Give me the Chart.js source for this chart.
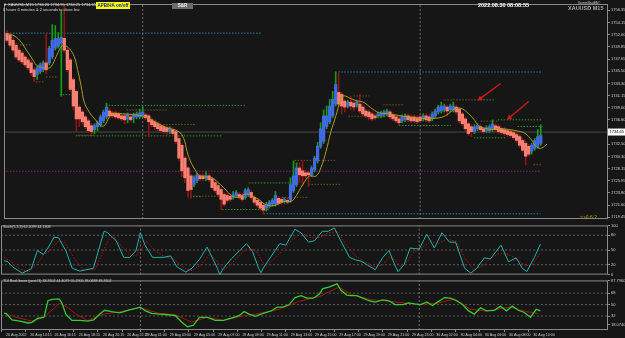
<!DOCTYPE html>
<html><head><meta charset="utf-8"><title>XAUUSD M15</title>
<script src="https://cdn.jsdelivr.net/npm/chart.js@4.4.1/dist/chart.umd.min.js"></script>
<style>
html,body{margin:0;padding:0;background:#161616;}
body{width:625px;height:338px;position:relative;overflow:hidden;font-family:'Liberation Sans',Arial,sans-serif;}
canvas{position:absolute;left:0;}
.t{position:absolute;white-space:nowrap;line-height:1;z-index:5;}
</style></head><body>
<canvas id="cMain" width="625" height="223" style="top:0"></canvas>
<canvas id="cStoch" width="625" height="56" style="top:222px"></canvas>
<canvas id="cTdi" width="625" height="61" style="top:277px"></canvas>

<div class="t" style="left:3px;top:3px;font-size:4px;color:#dcdcdc">▼ XAUUSD,M15 1734.26 1734.95 1734.25 1734.65</div>
<div class="t" style="left:3px;top:8px;font-size:4px;color:#dcdcdc">0 hours 6 minutes &amp; 2 seconds to close bar</div>
<div class="t" style="left:96px;top:2px;width:34px;height:7px;background:#ffff00;color:#1020c0;font-size:4.5px;font-weight:bold;line-height:7px;text-align:center">APB/HA on/off</div>
<div class="t" style="left:172px;top:2.5px;width:21px;height:6.5px;background:#6c6c6c;color:#f0f0f0;font-size:4.5px;font-weight:bold;line-height:6.5px;text-align:center">S&amp;R</div>
<div class="t" style="left:478px;top:3px;font-size:5.5px;font-weight:bold;color:#ffffff">2022.08.30 08:08:55</div>
<div class="t" style="left:578px;top:2px;font-size:3px;color:#cfcfcf">ScreenShotEA ©</div>
<div class="t" style="left:568px;top:5.5px;font-size:5.5px;font-weight:bold;color:#a9a9a9">XAUUSD M15</div>
<div class="t" style="left:580px;top:215px;font-size:5px;color:#a4a020">&gt;&gt;0:6:2</div>
<div class="t" style="left:3px;top:225.5px;font-size:3.6px;color:#d0d0d0">Stoch(5,3,3) 62.2099 44.1308</div>
<div class="t" style="left:3px;top:279.5px;font-size:3.6px;color:#d0d0d0">TDI Red Green (post#3) 38.3302 44.4079 55.2905 38.0688 38.3302</div>

<script>
// ---------------- DATA ----------------
const haOpen = [1752.23,1751.88,1751.00,1750.13,1749.25,1748.73,1748.03,1747.50,1746.98,1745.75,
1744.88,1745.40,1745.75,1746.98,1746.98,1748.03,1749.60,1749.95,1750.48,1751.35,
1749.25,1747.50,1744.00,1741.90,1739.10,1738.23,1737.35,1736.65,1735.78,1735.08,
1735.60,1735.95,1736.65,1737.35,1738.40,1738.05,1738.05,1737.88,1737.53,1737.53,
1737.00,1737.35,1737.18,1737.35,1737.35,1737.53,1737.70,1737.53,1736.83,1736.48,
1736.13,1735.78,1735.60,1735.43,1734.73,1735.08,1734.73,1733.50,1732.28,1730.00,
1728.25,1726.85,1725.28,1725.98,1726.85,1726.85,1726.33,1726.85,1726.33,1725.63,
1725.10,1724.40,1723.53,1723.35,1723.18,1723.00,1723.35,1723.53,1723.35,1723.00,
1723.53,1723.88,1723.00,1722.48,1722.13,1721.60,1721.08,1721.43,1721.78,1721.78,
1722.83,1722.65,1722.30,1722.48,1722.48,1724.23,1725.28,1728.25,1727.73,1727.38,
1727.38,1727.03,1727.90,1729.48,1732.10,1732.98,1735.60,1736.48,1737.53,1739.63,
1741.73,1741.38,1740.15,1739.28,1739.98,1739.80,1739.45,1739.63,1739.10,1738.40,
1738.23,1737.88,1737.53,1737.53,1737.53,1737.70,1737.88,1738.23,1737.70,1737.35,
1737.00,1736.65,1736.83,1737.53,1737.35,1737.35,1737.18,1737.35,1737.00,1737.53,
1737.35,1737.00,1737.53,1738.23,1738.40,1738.58,1739.10,1738.58,1738.58,1739.10,
1738.75,1737.88,1737.00,1736.13,1735.60,1734.73,1735.25,1735.60,1735.25,1734.90,
1734.90,1735.08,1735.78,1735.60,1735.25,1735.08,1734.90,1734.73,1734.55,1734.20,
1733.85,1733.15,1732.63,1732.10,1731.23,1731.75,1732.10,1732.63];
const haHigh = [1752.75,1752.23,1751.35,1750.48,1749.60,1749.08,1748.38,1747.85,1747.33,1746.10,
1746.45,1746.98,1747.33,1752.23,1749.95,1753.80,1753.63,1752.40,1756.25,1757.13,
1749.60,1747.85,1744.35,1742.25,1739.45,1738.58,1737.70,1737.00,1736.13,1736.13,
1736.65,1737.70,1738.58,1739.80,1738.93,1738.40,1738.40,1738.23,1737.88,1737.88,
1738.05,1737.70,1738.05,1738.23,1738.75,1739.10,1738.05,1737.88,1737.18,1736.83,
1736.48,1736.13,1735.95,1735.78,1735.60,1735.43,1735.08,1733.85,1732.63,1730.35,
1728.60,1727.20,1726.85,1727.38,1727.20,1727.20,1727.55,1727.20,1726.68,1725.98,
1725.45,1724.75,1723.88,1723.70,1723.53,1724.05,1724.23,1723.88,1723.70,1724.58,
1724.75,1724.23,1723.35,1722.83,1722.48,1721.95,1722.13,1722.48,1722.83,1724.05,
1723.18,1723.00,1723.00,1722.83,1726.50,1729.50,1729.15,1729.15,1729.50,1727.90,
1727.73,1728.60,1730.35,1732.80,1736.30,1738.58,1739.28,1740.50,1741.90,1745.40,
1745.23,1741.73,1740.50,1740.33,1741.03,1740.15,1740.33,1741.38,1739.45,1738.75,
1738.58,1738.23,1737.88,1738.23,1738.40,1738.58,1738.75,1738.58,1738.05,1737.70,
1737.35,1737.70,1737.88,1737.88,1737.70,1737.70,1737.53,1737.70,1737.88,1737.88,
1737.70,1738.23,1738.75,1739.45,1739.98,1739.63,1739.45,1739.63,1739.98,1739.45,
1739.10,1738.23,1737.35,1736.48,1735.95,1735.95,1736.13,1735.95,1735.60,1735.78,
1735.95,1736.83,1736.13,1735.95,1735.60,1735.43,1735.25,1735.08,1734.90,1734.55,
1734.20,1733.50,1732.98,1732.45,1732.63,1733.50,1735.08,1735.95];
const haLow = [1750.65,1749.78,1748.90,1747.68,1747.15,1746.80,1746.28,1745.75,1744.70,1743.65,
1744.00,1745.05,1745.40,1745.05,1746.63,1747.68,1749.25,1749.60,1741.03,1748.90,
1745.40,1741.90,1738.58,1734.73,1735.60,1735.95,1735.25,1734.55,1734.20,1734.38,
1734.90,1735.60,1736.30,1737.00,1737.18,1737.18,1737.00,1736.83,1736.65,1736.13,
1736.30,1736.48,1736.30,1737.00,1737.00,1737.18,1736.83,1733.85,1735.60,1735.08,
1734.90,1734.55,1734.38,1734.20,1734.38,1734.03,1732.63,1729.65,1726.68,1725.63,
1723.00,1722.83,1724.93,1725.63,1725.98,1725.98,1725.98,1725.80,1724.40,1723.88,
1723.18,1720.75,1721.43,1722.13,1722.30,1722.65,1723.00,1722.65,1722.30,1722.65,
1723.18,1722.65,1721.78,1721.25,1720.73,1720.03,1720.55,1721.08,1721.43,1721.43,
1721.60,1721.78,1721.95,1721.78,1722.13,1723.88,1724.93,1725.63,1725.10,1726.50,
1724.93,1726.68,1727.55,1729.13,1731.75,1732.63,1735.25,1736.13,1737.18,1739.28,
1739.28,1737.88,1738.23,1738.93,1738.58,1738.40,1739.10,1738.05,1737.53,1737.18,
1736.83,1736.65,1736.83,1737.18,1737.18,1737.35,1737.53,1737.00,1736.65,1736.30,
1735.95,1736.30,1736.48,1736.48,1736.30,1736.30,1736.13,1736.30,1736.65,1736.48,
1736.30,1736.65,1737.18,1737.88,1738.05,1738.23,1737.53,1738.23,1738.23,1737.88,
1736.30,1735.78,1734.90,1734.03,1733.85,1734.38,1734.90,1734.73,1734.38,1734.55,
1734.55,1734.73,1734.73,1734.38,1734.20,1734.03,1733.85,1733.68,1733.33,1732.80,
1731.93,1731.05,1728.80,1730.35,1730.70,1731.40,1731.75,1732.28];
const haClose = [1751.00,1750.13,1749.25,1748.03,1747.50,1747.15,1746.63,1746.10,1745.23,1744.53,
1746.10,1746.63,1746.98,1745.75,1749.60,1751.00,1751.35,1751.35,1751.53,1749.25,
1745.75,1742.25,1739.28,1737.00,1737.00,1736.48,1735.60,1734.90,1734.73,1735.78,
1736.30,1737.35,1738.23,1739.10,1737.53,1737.53,1737.35,1737.18,1737.00,1736.83,
1737.70,1736.83,1737.70,1737.88,1738.05,1738.23,1737.18,1736.48,1735.95,1735.60,
1735.25,1734.90,1734.73,1734.73,1735.25,1734.38,1732.98,1730.00,1727.73,1726.50,
1724.23,1724.40,1726.50,1727.03,1726.33,1726.33,1726.85,1726.15,1724.75,1724.23,
1723.53,1722.65,1721.78,1722.48,1722.65,1723.53,1723.88,1723.00,1722.65,1724.23,
1724.40,1723.00,1722.13,1721.60,1721.08,1720.73,1721.78,1722.13,1722.48,1723.35,
1721.95,1722.13,1722.65,1722.13,1725.28,1726.85,1728.25,1727.03,1726.85,1726.85,
1727.03,1728.25,1730.00,1732.10,1735.25,1737.53,1737.53,1739.28,1740.50,1743.13,
1739.63,1739.28,1739.10,1739.98,1739.28,1739.10,1739.98,1738.40,1737.88,1737.53,
1737.35,1737.00,1737.18,1737.88,1738.05,1738.23,1738.40,1737.35,1737.00,1736.65,
1736.30,1737.35,1737.53,1736.83,1736.65,1736.65,1736.48,1736.65,1737.53,1736.83,
1736.65,1737.88,1738.40,1739.10,1739.28,1739.28,1738.40,1739.28,1739.28,1738.23,
1736.65,1736.13,1735.25,1734.38,1734.73,1735.60,1735.78,1735.08,1734.73,1735.43,
1735.60,1736.13,1735.08,1734.73,1734.55,1734.38,1734.20,1734.03,1733.68,1733.15,
1732.28,1731.40,1730.35,1730.70,1732.28,1733.15,1733.85,1734.03];

// moving average (bar index, price)
const maLine = [[0,1752.2],[2,1751.9],[4.2,1751.0],[6.4,1749.3],[8.6,1747.5],[9.7,1746.6],[10.8,1746.3],[13,1746.0],[14.6,1746.3],[16.3,1748.1],[17.9,1749.8],[19,1750.1],[20.7,1749.5],[22.3,1748.1],[23.4,1745.8],[24.6,1742.8],[25.6,1740.0],[27.3,1738.2],[29.5,1736.7],[31.1,1735.8],[32.3,1735.8],[33.9,1737.3],[35,1737.9],[38.3,1737.9],[44.9,1737.5],[48.2,1736.7],[52.6,1735.5],[57,1734.7],[58.6,1733.5],[59.7,1731.2],[60.8,1729.5],[62.3,1728.0],[64,1726.8],[67.9,1726.5],[70.1,1725.6],[72.3,1724.5],[74.5,1723.3],[76.7,1723.0],[78.9,1723.6],[81.1,1723.3],[83.3,1722.7],[85.5,1721.8],[87.7,1721.5],[89.9,1721.8],[92.1,1722.3],[94.3,1722.3],[95.9,1723.3],[98.1,1725.3],[100.3,1726.8],[102.5,1726.8],[104.1,1728.3],[105.8,1731.2],[107.4,1734.7],[109.1,1737.6],[110.7,1740.5],[111.8,1741.1],[114,1740.6],[116.2,1740.2],[118.4,1739.9],[120.6,1739.0],[123.3,1738.1],[126.6,1737.9],[129.9,1737.6],[133.2,1737.3],[137.6,1737.1],[142,1737.1],[144.2,1737.3],[146.4,1737.9],[148.6,1738.8],[150.9,1738.8],[153.1,1737.9],[154.7,1737.0],[156.4,1735.8],[158.6,1735.3],[160.8,1735.1],[163,1735.3],[166.3,1735.1],[169.6,1734.8],[171.8,1734.4],[174,1733.2],[175.6,1732.0],[177.3,1731.8],[179.1,1732.5]];

// support / resistance segments: [fromBar, toBar, price]
const srCyan = [[-1,84.2,1752.28],[109.9,177.6,1745.35],[85.1,176.9,1720.08]];
const srMagenta = [[-1,176.9,1727.67]];
const srGreen = [[33.7,78.9,1739.40],[22.8,71.3,1733.97],[17.5,21.1,1741.32],[71.3,87.1,1720.85],[80.2,94.4,1725.57],[60.7,64.7,1723.12],[155,162,1740.38],[162.7,177.6,1736.83],[130,147.2,1735.83],[169.3,177.6,1735.65],[154.8,165.3,1733.62]];
const srBrown = [[4.3,8.3,1750.18],[12.9,16.8,1744.47],[9.6,12.5,1743.60],[39.6,53.5,1738.58],[49.8,62.4,1736.00],[60.7,71.3,1723.23],[91.1,100,1723.00],[95.4,109.2,1729.60],[100,110.9,1725.33],[114.9,120.1,1741.08],[113.2,134,1737.47],[145,155,1740.38],[124.8,131.4,1739.50],[157.1,162.7,1736.60],[174.6,177.6,1728.83],[23.4,29,1734.08]];

// red arrows: [tailBar, tailPrice, tipBar, tipPrice]
const arrows = [[163.7,1743.3,156.9,1740.6],[173.0,1740.1,166.6,1737.2]];
const arrowAngles = [233,230];

const lastPrice = 1734.65;
const daySeparators = [45, 137];

const priceTicks = [1756.35,1754.15,1752.00,1749.85,1747.65,1745.50,1743.30,1741.15,1739.00,1736.80,1732.50,1730.30,1728.15,1725.95,1723.80,1721.60,1719.45];

// Stochastic (bar index, value)
const stochMain = [[0,28],[1,27],[3,15],[6,3],[9,12],[11,49],[13,41],[14.5,54],[16.5,76],[18,75],[20.5,47],[22.5,13],[25,7],[29.5,13],[33,88],[34,86],[37,69],[39.5,35],[41.5,35],[43.5,48],[45,85],[46.5,60],[49,35],[52.5,35],[55,38],[57,16],[60,5],[62,13],[64.5,31],[67,56],[70.4,13],[71.2,0],[72.4,13],[75,32],[77.5,47],[80,63],[82,47],[84,13],[84.8,4],[85.5,13],[91,63],[93,60],[96,92],[98,85],[100.5,66],[102.5,69],[105,88],[107,88],[109,95],[111,70],[114,35],[116,30],[118,27],[120,19],[122.5,10],[125,35],[127,49],[129,19],[130,6],[132,20],[134,54],[137,52],[139.5,82],[142,54],[144.5,85],[147,66],[149,66],[152,13],[154,3],[156,13],[158.5,34],[160.5,32],[164,60],[166.5,26],[169,34],[171,13],[172.5,6],[175,35],[177,62]];
const stochSignal = [[0,35],[2,28],[5,12],[8,5],[11,22],[13,40],[15,48],[18,68],[20,65],[23,35],[26,10],[30,10],[34,65],[36,80],[39,55],[42,38],[44,40],[47,68],[50,48],[53,36],[56,32],[59,15],[62,8],[65,20],[68,42],[70,30],[72,10],[74,15],[77,35],[80,52],[83,50],[86,18],[88,25],[92,50],[95,70],[98,85],[101,75],[104,75],[107,85],[110,88],[113,60],[116,38],[119,26],[122,16],[125,20],[127,35],[129,30],[131,15],[133,25],[135,45],[138,55],[141,68],[143,62],[146,72],[149,68],[152,35],[155,10],[158,18],[160,30],[163,42],[166,42],[169,33],[172,18],[174,18],[177,44]];
const stochLevels = [80,50,20];
const stochTicks = [100,80,50,20,0];

// TDI (bar index, value)
const tdiGreen = [[0,36],[0.7,36],[2.6,26],[5.3,24],[7.9,21],[9.2,22],[11.2,28.5],[13.2,30],[14.5,56],[15.8,58],[18.2,59],[19.1,52.5],[20.4,35],[22.4,25],[25,25],[27.6,24],[29.6,26],[31.6,35],[33.2,41],[35.5,39],[38.2,37],[40.8,41],[43.4,44],[45,46],[46.7,40],[48.7,36],[51.3,35],[53.9,34],[56.6,32.5],[58.6,22.5],[60.5,15],[62.5,17.5],[64.5,30],[67.1,30],[69.7,25],[72.4,25],[75,28.5],[77.6,32.5],[79.2,39],[80.9,35],[82.9,31.5],[85.5,36],[88.2,40],[90.1,46],[92.1,46],[94.1,50],[96,61],[98,64],[100,60],[102,60],[104,66],[105.2,75],[107.2,77.5],[109.9,82.5],[111.2,72.5],[113.1,65],[114.5,64],[116.4,64],[118.4,60],[120.4,56],[122.4,54],[125,57.5],[127,56],[129,50],[131.6,50],[133.5,52.5],[135.5,51],[137.5,50],[139.5,54],[141.4,48.5],[143.4,55],[145.4,61],[147.3,60],[149.3,56],[151.3,50],[153.3,40],[155.2,35],[157.2,45],[159.2,40],[161.8,41],[163.8,47.5],[165.8,40],[167.7,47.5],[169.7,41],[171.7,37.5],[173.7,30],[175.6,42.5],[177,40]];
const tdiRed = [[0,36],[4,30],[9.2,24],[13.2,30],[18.4,52.5],[21.1,45],[23.7,35],[27.6,25],[32.9,35],[38.2,38.5],[44.7,45],[51.3,36],[56.6,34],[61.8,22.5],[67.1,30],[72.4,25],[77.6,31],[84.2,36],[90.8,42.5],[97.4,55],[104,62.5],[110.5,77.5],[114.5,66],[121,57.5],[127.6,55],[136.8,50],[143.4,52.5],[148.7,59],[153.9,42.5],[159.2,40],[167.1,46],[172.3,39],[176.3,36]];
const tdiLevels = [68,50,32];
const tdiTicks = [87.796,68,50,32,18.074];
const tdiTickText = ['87.7960','68','50','32','18.0740'];

const timeTickBars = [-1,7,15,23,31,39,45,53,61,69,77,85,93,101,109,117,125,133,141,149,157,165,173];
const timeLabels = ['26 Aug 2022','26 Aug 14:15','26 Aug 16:15','26 Aug 18:15','26 Aug 20:15','26 Aug 22:15','29 Aug 01:00','29 Aug 03:00','29 Aug 05:00','29 Aug 07:00','29 Aug 09:00','29 Aug 11:00','29 Aug 13:00','29 Aug 15:00','29 Aug 17:00','29 Aug 19:00','29 Aug 21:00','29 Aug 23:00','30 Aug 02:00','30 Aug 04:00','30 Aug 06:00','30 Aug 08:00','30 Aug 10:00'];

// ---------------- RENDER ----------------
const X_MIN = -1.0, X_MAX = 199.3;
const MAIN_MIN = 1719.15, MAIN_MAX = 1757.475;
const AXIS_W = 17;
Chart.defaults.font.family = "'Liberation Sans', Arial, sans-serif";
Chart.defaults.color = '#d0d0d0';

const C = {salmon:'#fa8072', blue:'#4169e1', wickUp:'#179c17', wickDn:'#8e1414', ma:'#ab9e1c',
  cyan:'#2282a6', green:'#2f8f2f', brown:'#6f5522', magenta:'#7e2a80', sep:'#707070', level:'#5c5c5c'};

const framePlugin = {id:'frame', afterDraw(chart){
  const {ctx, chartArea:a} = chart;
  ctx.save(); ctx.strokeStyle = '#8a8a8a'; ctx.lineWidth = 1;
  ctx.strokeRect(a.left + 0.5, a.top + 0.5, a.right - a.left - 1, a.bottom - a.top - 1);
  ctx.restore();
}};
const pricePlugin = {id:'priceLabel', afterDraw(chart){
  const {ctx} = chart; const y = chart.scales.y.getPixelForValue(lastPrice);
  ctx.save(); ctx.fillStyle = '#ffffff'; ctx.fillRect(608, y - 3.5, 17, 7);
  ctx.fillStyle = '#000'; ctx.font = "4px 'Liberation Sans', Arial"; ctx.textBaseline = 'middle';
  ctx.fillText(lastPrice.toFixed(2), 609.5, y); ctx.restore();
}};

function seg(x1, x2, y, color, order, dash){
  return {type:'line', data:[{x:x1,y:y},{x:x2,y:y}], borderColor:color, borderWidth:1,
    borderDash: dash || [1.5,1.5], pointRadius:0, order:order, fill:false};
}
function vline(x, lo, hi, order){
  return {type:'line', data:[{x:x,y:lo},{x:x,y:hi}], borderColor:C.sep, borderWidth:1,
    borderDash:[2,2], pointRadius:0, order:order, fill:false};
}
function pts(arr){ return arr.map(p => ({x:p[0], y:p[1]})); }
function rightAxis(min, max, ticks, cb){
  return {position:'right', min:min, max:max,
    afterFit(s){ s.width = AXIS_W; },
    afterBuildTicks(s){ s.ticks = ticks.map(v => ({value:v})); },
    ticks:{autoSkip:false, padding:1, font:{size:4}, color:'#cfcfcf', callback:cb},
    grid:{drawOnChartArea:false, drawTicks:true, tickLength:2, color:'#8a8a8a'},
    border:{display:false}};
}
const hiddenX = {type:'linear', min:X_MIN, max:X_MAX, display:false, offset:false};
const baseOpts = {responsive:false, animation:false, devicePixelRatio:1, events:[],
  plugins:{legend:{display:false}, tooltip:{enabled:false}}};

// main chart datasets
const idx = haOpen.map((_, i) => i);
const isUp = idx.map(i => haClose[i] >= haOpen[i]);
const mainSets = [];
srCyan.forEach(s => mainSets.push(seg(s[0], s[1], s[2], C.cyan, 6)));
srMagenta.forEach(s => mainSets.push(seg(s[0], s[1], s[2], C.magenta, 6)));
srGreen.forEach(s => mainSets.push(seg(s[0], s[1], s[2], C.green, 6)));
srBrown.forEach(s => mainSets.push(seg(s[0], s[1], s[2], C.brown, 6)));
daySeparators.forEach(d => mainSets.push(vline(d, MAIN_MIN, MAIN_MAX, 5)));
mainSets.push({type:'line', data:[{x:X_MIN,y:lastPrice},{x:X_MAX,y:lastPrice}], borderColor:'#4a4a4a', borderWidth:1, pointRadius:0, order:5});
mainSets.push({type:'bar', data: idx.map(i => ({x:i, y:[haLow[i], haHigh[i]]})),
  backgroundColor: idx.map(i => isUp[i] ? C.wickUp : C.wickDn), barThickness:1, grouped:false, order:3});
mainSets.push({type:'bar', data: idx.map(i => ({x:i, y:[haOpen[i], haClose[i]]})),
  backgroundColor: idx.map(i => isUp[i] ? C.blue : C.salmon), barThickness:2.6, minBarLength:1, grouped:false, order:2});
mainSets.push({type:'line', data: pts(maLine), borderColor:C.ma, borderWidth:1, pointRadius:0, tension:0.4, order:1});
arrows.forEach((a, j) => mainSets.push({type:'line', data:[{x:a[0],y:a[1]},{x:a[2],y:a[3]}],
  borderColor:'#d01a1a', borderWidth:1.4, pointRadius:[0,3.2], pointStyle:'triangle',
  pointRotation:[0, arrowAngles[j]], pointBackgroundColor:'#d01a1a', pointBorderWidth:0, order:0}));

new Chart(document.getElementById('cMain'), {
  type:'bar', data:{datasets: mainSets},
  options: Object.assign({}, baseOpts, {
    layout:{padding:{left:1, top:3, right:0, bottom:1}},
    scales:{ x: hiddenX, y: rightAxis(MAIN_MIN, MAIN_MAX, priceTicks, v => Number(v).toFixed(2)) }
  }),
  plugins:[framePlugin, pricePlugin]
});

// stochastic
const stochSets = [
  {data: pts(stochMain), borderColor:'#22b3a8', borderWidth:1, pointRadius:0, order:0},
  {data: pts(stochSignal), borderColor:'#b01414', borderWidth:1, borderDash:[1.5,1.5], pointRadius:0, order:1}
];
stochLevels.forEach(l => stochSets.push(seg(X_MIN, X_MAX, l, C.level, 3, [2,2])));
daySeparators.forEach(d => stochSets.push(vline(d, 0, 100, 3)));
new Chart(document.getElementById('cStoch'), {
  type:'line', data:{datasets: stochSets},
  options: Object.assign({}, baseOpts, {
    layout:{padding:{left:1, top:2, right:0, bottom:1}},
    scales:{ x: hiddenX, y: rightAxis(0, 100, stochTicks, v => String(v)) }
  }),
  plugins:[framePlugin]
});

// TDI
const tdiSets = [
  {data: pts(tdiGreen), borderColor:'#33cc33', borderWidth:1.3, pointRadius:0, order:0},
  {data: pts(tdiRed), borderColor:'#a81414', borderWidth:1, pointRadius:0, order:1}
];
tdiLevels.forEach(l => tdiSets.push(seg(X_MIN, X_MAX, l, C.level, 3, [2,2])));
daySeparators.forEach(d => tdiSets.push(vline(d, 10, 88, 3)));
new Chart(document.getElementById('cTdi'), {
  type:'line', data:{datasets: tdiSets},
  options: Object.assign({}, baseOpts, {
    layout:{padding:{left:1, top:1, right:0, bottom:0}},
    scales:{
      x:{type:'linear', min:X_MIN, max:X_MAX, offset:false, position:'bottom',
        afterFit(s){ s.height = 8; },
        afterBuildTicks(s){ s.ticks = timeTickBars.map(v => ({value:v})); },
        ticks:{autoSkip:false, maxRotation:0, minRotation:0, align:'start', labelOffset:5, padding:1,
          font:{size:3.6}, color:'#cfcfcf', callback:(v, i) => timeLabels[i]},
        grid:{drawOnChartArea:false, drawTicks:true, tickLength:2, color:'#8a8a8a'},
        border:{display:false}},
      y: rightAxis(10, 88, tdiTicks, (v, i) => tdiTickText[i])
    }
  }),
  plugins:[framePlugin]
});
</script>
</body></html>
